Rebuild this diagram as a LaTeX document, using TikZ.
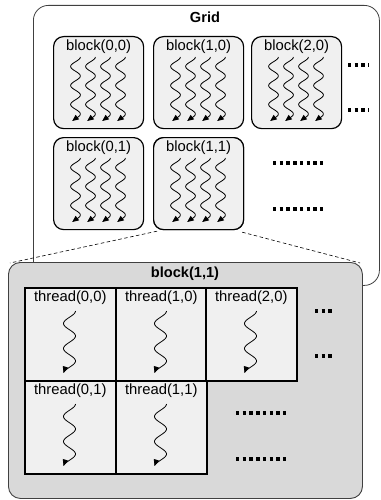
\documentclass[tikz,border=0pt]{standalone}
\usepackage{fontspec}
\setmainfont{Liberation Sans}
\usetikzlibrary{arrows.meta}
\begin{document}
\begin{tikzpicture}[x=1pt,y=-1pt,
  font=\fontsize{14.8}{17}\selectfont,
  gridbox/.style={draw=black!75, line width=0.8pt, fill=white, rounded corners=15pt, minimum width=346pt, minimum height=280pt, inner sep=0pt, anchor=north west},
  bigbox/.style={draw=black!75, line width=0.9pt, fill=black!15, rounded corners=12pt, minimum width=354pt, minimum height=236pt, inner sep=0pt, anchor=north west},
  blockbox/.style={draw, line width=1.2pt, fill=black!6, rounded corners=10pt, minimum width=90pt, minimum height=92pt, inner sep=0pt, anchor=north west},
  cellbox/.style={draw, line width=1.5pt, fill=black!6, minimum width=91pt, minimum height=93pt, inner sep=0pt, anchor=north west},
  lbl/.style={anchor=north, inner sep=0pt},
  title/.style={anchor=north, inner sep=0pt, font=\fontsize{14.6}{17}\selectfont\bfseries},
  wavy/.style={line width=0.8pt, -{Triangle[length=6.5pt,width=5.5pt]}},
  dotline/.style={line width=3.3pt, dash pattern=on 3.4pt off 3.3pt},
  zoomline/.style={dashed, line width=0.6pt, dash pattern=on 3.5pt off 2.5pt}]
\useasboundingbox (0,0) rectangle (380,500);

% Grid
\node[gridbox] (grid) at (33,5) {};
\node[title] (gridt) at (205,12) {Grid};

% blocks
\node[blockbox] (b00) at (53,36) {};
\node[blockbox] (b10) at (153,36) {};
\node[blockbox] (b20) at (251,36) {};
\node[blockbox] (b01) at (53,137) {};
\node[blockbox] (b11) at (153,137) {};

% zoom lines
\coordinate (bigtl) at (10,263);
\coordinate (bigtr) at (360,263);
\draw[zoomline] ([xshift=4pt,yshift=-1pt]b11.south west) -- (bigtl);
\draw[zoomline] ([xshift=-2pt,yshift=-2pt]b11.south east) -- (bigtr);
% redraw b11 over lines
\node[blockbox] at (153,137) {};

\foreach \b/\t in {b00/{block(0,0)}, b10/{block(1,0)}, b20/{block(2,0)}, b01/{block(0,1)}, b11/{block(1,1)}} {
  \node[lbl] at ([yshift=-4pt]\b.north) {\t};
  \begin{scope}[shift={(\b.north west)}]
  \foreach \i in {0,1,2,3} {
    \draw[wavy] plot[domain=0:64, samples=60, smooth, variable=\s] ({22.5+15*\i+4.9*cos(18.947*\s)}, {21+\s});
  }
  \end{scope}
}

% grid dots
\coordinate (gd1a) at (348,65);  \coordinate (gd1b) at (369,65);
\coordinate (gd2a) at (348,110); \coordinate (gd2b) at (369,110);
\coordinate (gd3a) at (273,163); \coordinate (gd3b) at (324,163);
\coordinate (gd4a) at (273,209); \coordinate (gd4b) at (324,209);
\draw[dotline] (gd1a) -- (gd1b);
\draw[dotline] (gd2a) -- (gd2b);
\draw[dotline] (gd3a) -- (gd3b);
\draw[dotline] (gd4a) -- (gd4b);

% big block
\node[bigbox] (big) at (8,262) {};
\node[title] (bigt) at (185,267) {block(1,1)};

\node[cellbox] (t00) at (24,287) {};
\node[cellbox] (t10) at (115,287) {};
\node[cellbox] (t20) at (205,287) {};
\node[cellbox] (t01) at (24,380) {};
\node[cellbox] (t11) at (115,380) {};

\foreach \c/\t in {t00/{thread(0,0)}, t10/{thread(1,0)}, t20/{thread(2,0)}, t01/{thread(0,1)}, t11/{thread(1,1)}} {
  \node[lbl] at ([yshift=-4pt]\c.north) {\t};
  \begin{scope}[shift={(\c.north west)}]
    \draw[wavy] plot[domain=0:62, samples=60, smooth, variable=\s] ({45.5+6*cos(14.4*\s)}, {24+\s});
  \end{scope}
}

% big dots
\coordinate (bd1a) at (315,311); \coordinate (bd1b) at (334,311);
\coordinate (bd2a) at (315,356); \coordinate (bd2b) at (334,356);
\coordinate (bd3a) at (236,413); \coordinate (bd3b) at (288,413);
\coordinate (bd4a) at (236,459); \coordinate (bd4b) at (288,459);
\draw[dotline] (bd1a) -- (bd1b);
\draw[dotline] (bd2a) -- (bd2b);
\draw[dotline] (bd3a) -- (bd3b);
\draw[dotline] (bd4a) -- (bd4b);
\end{tikzpicture}
\end{document}
